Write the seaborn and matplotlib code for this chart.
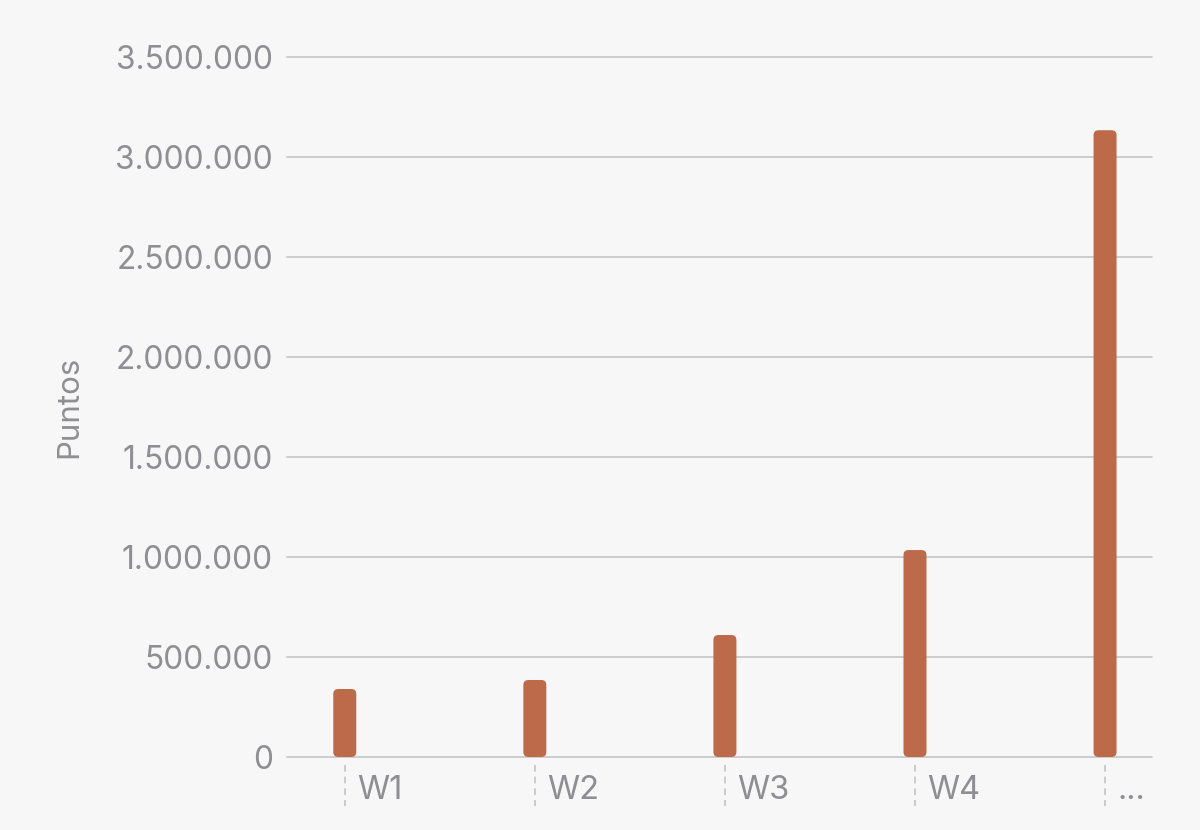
import numpy as np
import pandas as pd
import matplotlib
matplotlib.use("Agg")
import matplotlib.pyplot as plt
import matplotlib.transforms as mtransforms
from matplotlib.patches import FancyBboxPatch
import seaborn as sns

# Data
weeks = ["W1", "W2", "W3", "W4", "..."]
puntos = [340000, 385000, 610000, 1035000, 3135000]
y_ticks = [0, 500000, 1000000, 1500000, 2000000, 2500000, 3000000, 3500000]

bg = "#f7f7f7"
bar_color = "#bd6a4a"
text_color = "#8e8e93"
grid_color = "#c9c9c9"

sns.set_theme(style="white")
plt.rcParams["font.family"] = ["Inter", "DejaVu Sans"]

df = pd.DataFrame({"week": weeks, "puntos": puntos})

fig = plt.figure(figsize=(12, 8.3), dpi=100, facecolor=bg)
ax = fig.add_axes([0.239, 0.088, 0.721, 0.843])
ax.set_facecolor(bg)

sns.barplot(data=df, x="week", y="puntos", color=bar_color, width=0.121,
            saturation=1, ax=ax, zorder=3)

ax.set_xlim(-0.305, 4.247)
ax.set_ylim(0, 3500000)

# swap the square bars for rounded ones
fig.canvas.draw()
inv = ax.transData.inverted()
px_x = inv.transform([[1, 0]])[0][0] - inv.transform([[0, 0]])[0][0]
px_y = inv.transform([[0, 1]])[0][1] - inv.transform([[0, 0]])[0][1]
for p in list(ax.patches):
    x0, w, h = p.get_x(), p.get_width(), p.get_height()
    p.remove()
    r = 5 * px_x
    fb = FancyBboxPatch((x0, 0), w, h,
                        boxstyle=f"round,pad=0,rounding_size={r}",
                        mutation_aspect=px_y / px_x,
                        facecolor=bar_color, edgecolor="none", zorder=3)
    ax.add_patch(fb)

# gridlines
for yt in y_ticks:
    ax.axhline(yt, color=grid_color, lw=1.3, zorder=1, clip_on=False)

ax.set_yticks(y_ticks)
ax.set_yticklabels([f"{v:,}".replace(",", ".") for v in y_ticks])
ax.tick_params(axis="y", length=0, pad=10, labelsize=22.8, labelcolor=text_color)

# x labels sit to the right of dashed tick lines
ax.set_xticks(range(len(weeks)))
ax.set_xticklabels(weeks, ha="left")
ax.tick_params(axis="x", length=0, pad=13, labelsize=23.5, labelcolor=text_color)
offset = mtransforms.ScaledTranslation(12 / 100, 0, fig.dpi_scale_trans)
for lab in ax.get_xticklabels():
    lab.set_transform(lab.get_transform() + offset)

trans = mtransforms.blended_transform_factory(ax.transData, ax.transAxes)
for i in range(len(weeks)):
    ax.plot([i, i], [-0.012, -0.07], transform=trans, color="#c4c4c4",
            lw=1.2, ls=(0, (4, 3)), clip_on=False)

ax.set_xlabel("")
ax.set_ylabel("Puntos", fontsize=22.5, color=text_color, labelpad=23)
sns.despine(ax=ax, left=True, bottom=True, top=True, right=True)

fig.savefig("out.png", dpi=100, facecolor=bg)
